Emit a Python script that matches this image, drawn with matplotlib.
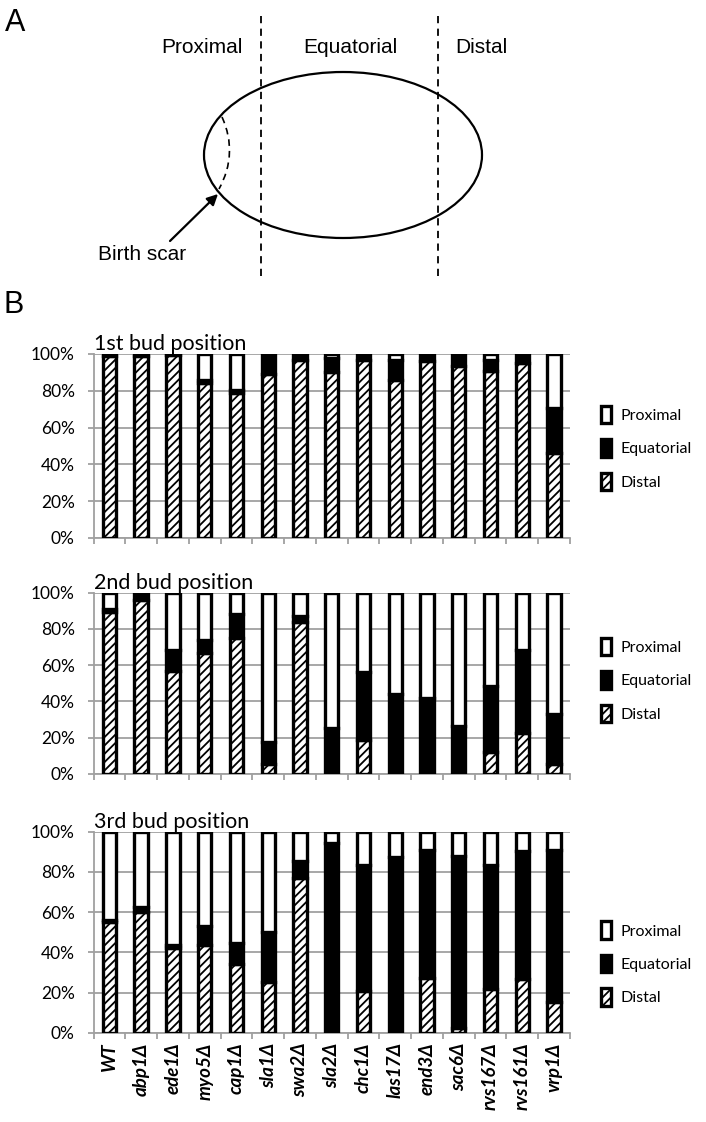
import numpy as np
import matplotlib
matplotlib.use("Agg")
import matplotlib.pyplot as plt
from matplotlib.patches import Ellipse, PathPatch, Patch
from matplotlib.path import Path

plt.rcParams['font.family'] = ['Lato', 'DejaVu Sans']
plt.rcParams['hatch.linewidth'] = 1.3

strains = ['WT', 'abp1Δ', 'ede1Δ', 'myo5Δ', 'cap1Δ', 'sla1Δ', 'swa2Δ', 'sla2Δ',
           'chc1Δ', 'las17Δ', 'end3Δ', 'sac6Δ', 'rvs167Δ', 'rvs161Δ', 'vrp1Δ']

# percent of buds
distal_1 = [99, 99, 99.5, 84, 79, 89, 97, 90, 97, 86, 96, 93.5, 90.5, 95, 46]
equat_1 = [1, 1, 0.5, 2, 1.5, 11, 3, 8, 3, 10.5, 4, 6.5, 6, 5, 24.5]

distal_2 = [89.5, 96, 57, 67, 75, 5.5, 84, 0, 18.5, 0, 0, 0, 12, 22.5, 5.5]
equat_2 = [1.5, 4, 11.5, 7, 13, 12, 3, 25.5, 37.5, 44, 42, 26.5, 36.5, 46, 27.5]

distal_3 = [55, 60, 42, 43.5, 34, 25, 77, 0, 20.5, 0, 27, 2.5, 21.5, 26.5, 15.5]
equat_3 = [1, 2.5, 1.5, 9.5, 10.5, 25, 8.5, 94.5, 63, 87.5, 64, 85.5, 62, 64, 75.5]

panels = [('1st bud position', distal_1, equat_1),
          ('2nd bud position', distal_2, equat_2),
          ('3rd bud position', distal_3, equat_3)]

fig = plt.figure(figsize=(7.06, 11.22), dpi=100)

# ---- panel A schematic, drawn in pixel coordinates ----
ov = fig.add_axes([0, 0, 1, 1])
ov.set_xlim(0, 706)
ov.set_ylim(1122, 0)
ov.axis('off')

afont = ['Liberation Sans', 'DejaVu Sans']
ov.text(5, 31, 'A', fontsize=22, family=afont, va='baseline')
ov.text(4, 313, 'B', fontsize=22, family=afont, va='baseline')
ov.text(202, 47, 'Proximal', fontsize=15, family=afont, ha='center', va='center')
ov.text(350, 47, 'Equatorial', fontsize=15, family=afont, ha='center', va='center')
ov.text(481, 47, 'Distal', fontsize=15, family=afont, ha='center', va='center')
ov.text(142, 254, 'Birth scar', fontsize=15, family=afont, ha='center', va='center')

for xv in [261, 438]:
    ov.plot([xv, xv], [16, 278], color='black', lw=1.3, ls=(0, (4, 3)))
ov.add_patch(Ellipse((343, 155), 278, 166, fill=False, lw=1.6, ec='black'))
scar = Path([(222, 117), (238.5, 153.5), (219, 189)],
            [Path.MOVETO, Path.CURVE3, Path.CURVE3])
ov.add_patch(PathPatch(scar, fill=False, lw=1.2, ls=(0, (4, 3)), ec='black'))
ov.annotate('', xy=(218, 194), xytext=(170, 241),
            arrowprops=dict(arrowstyle='-|>', lw=1.6, color='black',
                            mutation_scale=16, shrinkA=0, shrinkB=0))

# ---- panel B stacked bars ----
grey = '#a0a0a0'
x = np.arange(len(strains))
width = 0.42
lw_bar = 2.4

axes_pos = [(354, 538), (592.7, 774), (831.7, 1032.7)]
legend_y = [0.489, 0.518, 0.344]
left_px, right_px = 93.5, 570

for i, (title, distal, equat) in enumerate(panels):
    top, bot = axes_pos[i]
    ax = fig.add_axes([left_px / 706, 1 - bot / 1122,
                       (right_px - left_px) / 706, (bot - top) / 1122])
    d = np.array(distal)
    e = np.array(equat)
    p = 100 - d - e

    ax.bar(x, d, width, color='white', edgecolor='black', hatch='////',
           lw=lw_bar, zorder=3)
    ax.bar(x, e, width, bottom=d, color='black', edgecolor='black',
           lw=lw_bar, zorder=3)
    ax.bar(x, p, width, bottom=d + e, color='white', edgecolor='black',
           lw=lw_bar, zorder=3)

    ax.set_xlim(-0.5, len(strains) - 0.5)
    ax.set_ylim(0, 100)
    ax.set_yticks(np.arange(0, 101, 20))
    ax.set_yticklabels(['%d%%' % v for v in range(0, 101, 20)], fontsize=12.5)
    ax.yaxis.grid(True, color=grey, lw=1.3, zorder=0)
    ax.set_axisbelow(True)
    for s in ['top', 'right']:
        ax.spines[s].set_visible(False)
    for s in ['left', 'bottom']:
        ax.spines[s].set_color(grey)
        ax.spines[s].set_linewidth(1.3)
    ax.tick_params(axis='y', length=4.5, width=1.3, color=grey, pad=9)

    ax.set_xticks(np.arange(-0.5, len(strains), 1.0))
    ax.set_xticklabels([])
    ax.tick_params(axis='x', length=4.5, width=1.3, color=grey)
    if i == 2:
        ax.set_xticks(x, minor=True)
        ax.set_xticklabels(strains, minor=True, rotation=90, fontsize=13.5,
                           fontweight='bold', fontstyle='italic', va='top')
        ax.tick_params(axis='x', which='minor', length=0, pad=7)

    ax.text(0, 1.0, title, transform=ax.transAxes, ha='left', va='bottom',
            fontsize=15.5)

    handles = [Patch(facecolor='white', edgecolor='black', lw=lw_bar),
               Patch(facecolor='black', edgecolor='black', lw=lw_bar),
               Patch(facecolor='white', edgecolor='black', lw=lw_bar, hatch='////')]
    ax.legend(handles, ['Proximal', 'Equatorial', 'Distal'], loc='center left',
              bbox_to_anchor=(1.065, legend_y[i]), frameon=False, fontsize=11.5,
              handlelength=0.6, handleheight=1.3, handletextpad=0.6,
              labelspacing=1.0, borderpad=0, borderaxespad=0)

fig.savefig('out.png', dpi=100)
